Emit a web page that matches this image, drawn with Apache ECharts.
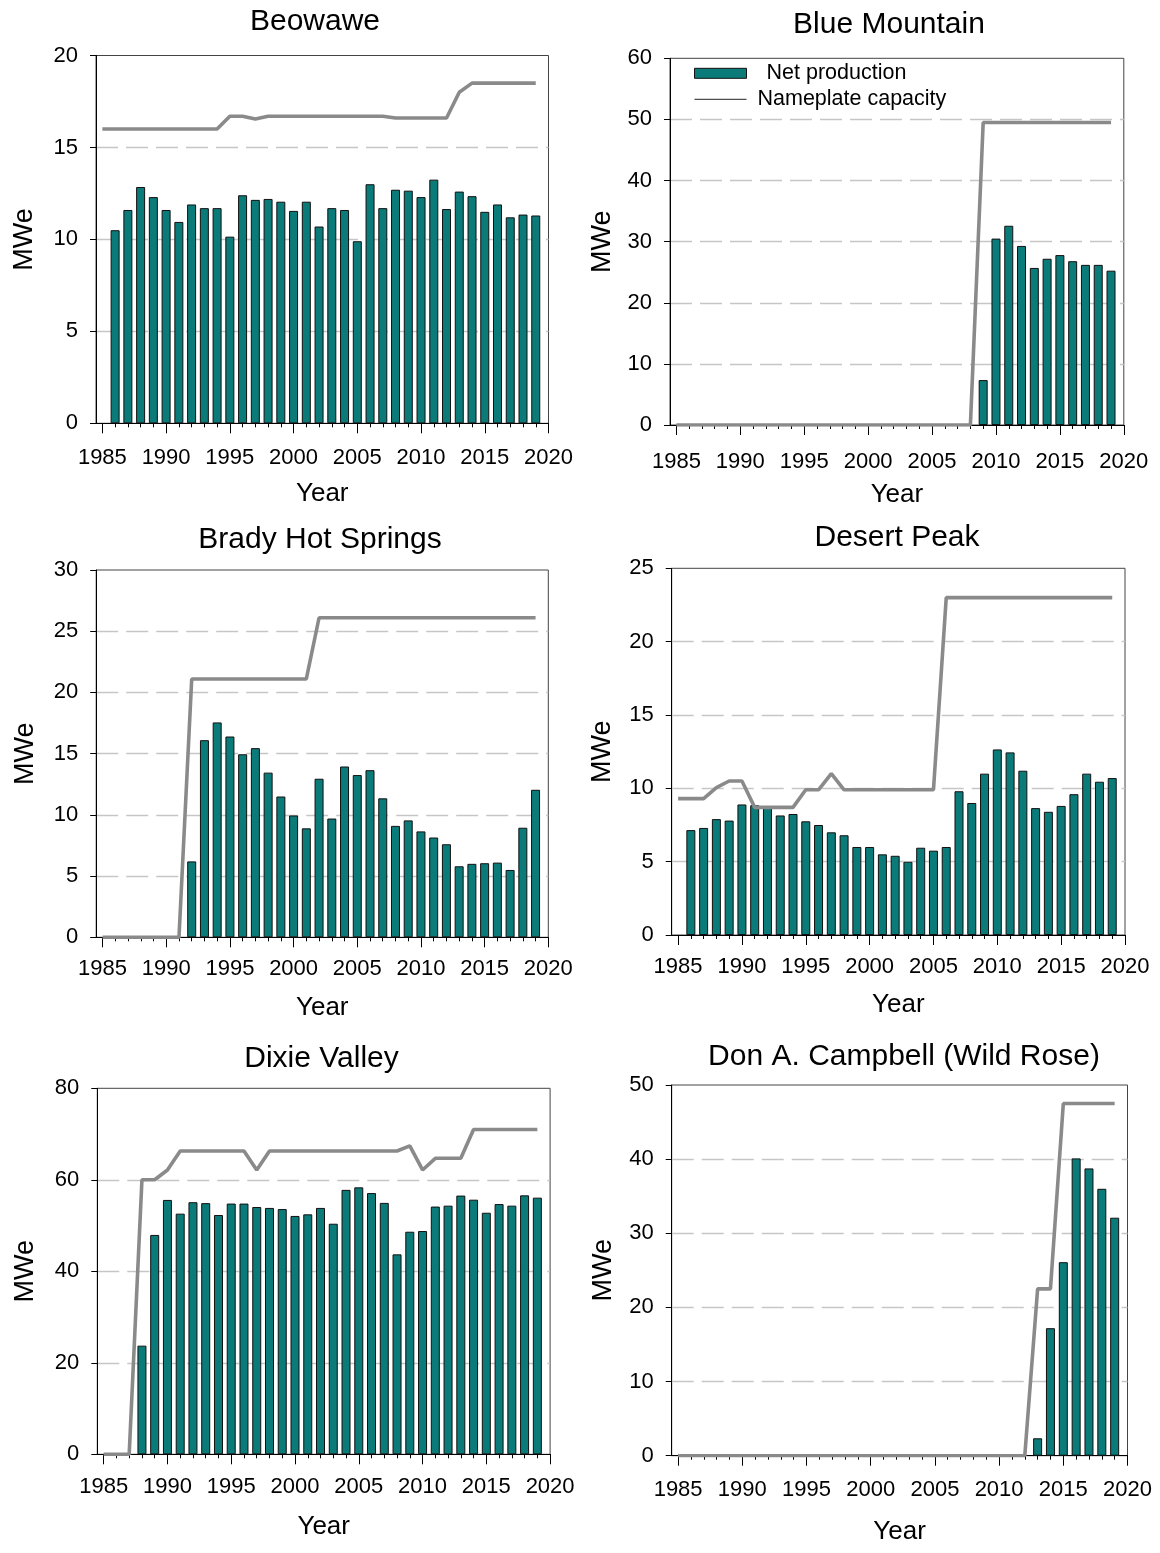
<!DOCTYPE html>
<html>
<head>
<meta charset="utf-8">
<script src="https://cdn.jsdelivr.net/npm/echarts@6/dist/echarts.min.js"></script>
<style>
html,body{margin:0;padding:0;background:#fff;}
#c{width:1160px;height:1553px;}
</style>
</head>
<body>
<div id="c"></div>
<script>
// ---------- data ----------
const years = [1985,1986,1987,1988,1989,1990,1991,1992,1993,1994,1995,1996,1997,1998,1999,2000,2001,2002,2003,2004,2005,2006,2007,2008,2009,2010,2011,2012,2013,2014,2015,2016,2017,2018,2019];
const majorTicks = [1985,1990,1995,2000,2005,2010,2015,2020];
const yearTicks = [1985,1986,1987,1988,1989,1990,1991,1992,1993,1994,1995,1996,1997,1998,1999,2000,2001,2002,2003,2004,2005,2006,2007,2008,2009,2010,2011,2012,2013,2014,2015,2016,2017,2018,2019,2020];

const beowaweNet = [null,10.5,11.6,12.85,12.3,11.6,10.95,11.9,11.7,11.7,10.15,12.4,12.15,12.2,12.05,11.55,12.05,10.7,11.7,11.6,9.9,13.0,11.7,12.7,12.65,12.3,13.25,11.65,12.6,12.35,11.5,11.9,11.2,11.35,11.3];
const beowaweCap = [16,16,16,16,16,16,16,16,16,16,16.7,16.7,16.55,16.7,16.7,16.7,16.7,16.7,16.7,16.7,16.7,16.7,16.7,16.6,16.6,16.6,16.6,16.6,18.0,18.5,18.5,18.5,18.5,18.5,18.5];

const blueNet = [null,null,null,null,null,null,null,null,null,null,null,null,null,null,null,null,null,null,null,null,null,null,null,null,7.35,30.5,32.6,29.3,25.7,27.2,27.8,26.8,26.2,26.2,25.25];
const blueCap = [0,0,0,0,0,0,0,0,0,0,0,0,0,0,0,0,0,0,0,0,0,0,0,0,49.5,49.5,49.5,49.5,49.5,49.5,49.5,49.5,49.5,49.5,49.5];

const bradyNet = [null,null,null,null,null,null,null,6.2,16.1,17.55,16.4,14.95,15.45,13.45,11.5,9.95,8.9,12.95,9.7,13.95,13.25,13.65,11.35,9.1,9.55,8.65,8.15,7.6,5.8,6.0,6.05,6.1,5.5,8.95,12.05];
const bradyCap = [0,0,0,0,0,0,0,21.1,21.1,21.1,21.1,21.1,21.1,21.1,21.1,21.1,21.1,26.1,26.1,26.1,26.1,26.1,26.1,26.1,26.1,26.1,26.1,26.1,26.1,26.1,26.1,26.1,26.1,26.1,26.1];

const desertNet = [null,7.15,7.3,7.9,7.8,8.9,8.85,8.75,8.15,8.25,7.75,7.5,7.0,6.8,6.0,6.0,5.5,5.4,5.0,5.95,5.75,6.0,9.8,9.0,11.0,12.65,12.45,11.2,8.65,8.4,8.8,9.6,11.0,10.45,10.7];
const desertCap = [9.3,9.3,9.3,10.05,10.5,10.5,8.7,8.7,8.7,8.7,9.9,9.9,11.0,9.9,9.9,9.9,9.9,9.9,9.9,9.9,9.9,23.0,23.0,23.0,23.0,23.0,23.0,23.0,23.0,23.0,23.0,23.0,23.0,23.0,23.0];

const dixieNet = [null,null,null,23.75,47.95,55.6,52.6,55.1,54.9,52.3,54.8,54.8,54.05,53.85,53.6,52.1,52.45,53.85,50.4,57.8,58.35,57.1,54.95,43.7,48.65,48.8,54.15,54.35,56.55,55.65,52.8,54.7,54.35,56.6,56.1];
const dixieCap = [0,0,0,60,60,62.15,66.3,66.3,66.3,66.3,66.3,66.3,62.15,66.3,66.3,66.3,66.3,66.3,66.3,66.3,66.3,66.3,66.3,66.3,67.4,62.15,64.7,64.7,64.7,71,71,71,71,71,71];

const donNet = [null,null,null,null,null,null,null,null,null,null,null,null,null,null,null,null,null,null,null,null,null,null,null,null,null,null,null,null,2.35,17.2,26.1,40.1,38.75,36.0,32.1];
const donCap = [0,0,0,0,0,0,0,0,0,0,0,0,0,0,0,0,0,0,0,0,0,0,0,0,0,0,0,0,22.5,22.5,47.5,47.5,47.5,47.5,47.5];

const titles = ['Beowawe','Blue Mountain','Brady Hot Springs','Desert Peak','Dixie Valley','Don A. Campbell (Wild Rose)'];
const netSeries = [beowaweNet, blueNet, bradyNet, desertNet, dixieNet, donNet];
const capSeries = [beowaweCap, blueCap, bradyCap, desertCap, dixieCap, donCap];
const yMaxes = [20, 60, 30, 25, 80, 50];
const ySteps = [5, 10, 5, 5, 20, 10];

// ---------- layout (pixels) ----------
const layout = [
  {left:96,   top:55.5,  width:452.5, height:367.8, tx:315,   ty:7,    lm:24, yng:58, xng:58},
  {left:670,  top:58.3,  width:453.8, height:366.7, tx:889,   ty:10,   lm:26, yng:54, xng:57},
  {left:96.2, top:570,   width:452.1, height:367.3, tx:320,   ty:525,  lm:21, yng:57, xng:58},
  {left:671.7,top:568.3, width:453.3, height:366.7, tx:897,   ty:523,  lm:21, yng:56, xng:57},
  {left:97.3, top:1088.3,width:452.8, height:366,   tx:321.5, ty:1044, lm:22, yng:58, xng:60},
  {left:671.7,top:1085,  width:455.8, height:370.7, tx:904,   ty:1042, lm:23, yng:55, xng:63}
];

const FONT = '"Liberation Sans", Arial, Helvetica, sans-serif';
const TEAL = '#0b7b79';
const GRAY = '#8a8a8a';

const option = {
  animation: false,
  backgroundColor: '#ffffff',
  title: [], grid: [], xAxis: [], yAxis: [], series: [],
  legend: [
    {
      data: [{name: 'Net production', icon: 'rect'}],
      left: 694, top: 62.3, padding: 0, orient: 'vertical',
      itemWidth: 52, itemHeight: 10, itemGap: 0, selectedMode: false,
      itemStyle: {borderColor: '#111', borderWidth: 1},
      textStyle: {fontFamily: FONT, fontSize: 21.5, color: '#000', lineHeight: 22, padding: [0,0,0,15]}
    },
    {
      data: [{name: 'Nameplate capacity'}],
      left: 694, top: 88.3, padding: 0, orient: 'vertical',
      itemWidth: 52, itemHeight: 10, itemGap: 0, selectedMode: false,
      itemStyle: {opacity: 0, borderWidth: 0},
      lineStyle: {color: '#222', width: 1, opacity: 1},
      textStyle: {fontFamily: FONT, fontSize: 21.5, color: '#000', lineHeight: 22, padding: [0,0,0,6]}
    }
  ]
};

function yearLabel(v) { return String(Math.round(v)); }

titles.forEach(function (t, i) {
  const L = layout[i];
  option.title.push({
    text: t, left: L.tx, top: L.ty, textAlign: 'center', padding: 0,
    textStyle: {fontFamily: FONT, fontSize: 30, fontWeight: 'normal', color: '#000'}
  });
  option.grid.push({
    left: L.left, top: L.top, width: L.width, height: L.height,
    show: true, borderColor: '#444', borderWidth: 1, backgroundColor: 'transparent',
    containLabel: false, outerBoundsMode: 'none'
  });
  option.xAxis.push({
    type: 'value', gridIndex: i, min: 1984.5, max: 2020, position: 'bottom',
    name: 'Year', nameLocation: 'middle', nameGap: L.xng,
    nameTextStyle: {fontFamily: FONT, fontSize: 26, color: '#000'},
    axisLine: {show: true, onZero: false, lineStyle: {color: '#000', width: 1}},
    axisTick: {show: true, customValues: majorTicks, length: 10, lineStyle: {color: '#000', width: 1}},
    axisLabel: {customValues: majorTicks, formatter: yearLabel, margin: L.lm, fontFamily: FONT, fontSize: 22, color: '#000'},
    splitLine: {show: false}
  });
  option.xAxis.push({
    type: 'value', gridIndex: i, min: 1984.5, max: 2020, position: 'bottom',
    axisLine: {show: false, onZero: false},
    axisTick: {show: true, customValues: yearTicks, length: 4, lineStyle: {color: '#000', width: 1}},
    axisLabel: {show: false},
    splitLine: {show: false}
  });
  option.yAxis.push({
    type: 'value', gridIndex: i, min: 0, max: yMaxes[i], interval: ySteps[i],
    name: 'MWe', nameLocation: 'middle', nameRotate: 90, nameGap: L.yng,
    nameTextStyle: {fontFamily: FONT, fontSize: 27, color: '#000'},
    axisLine: {show: true, onZero: false, lineStyle: {color: '#000', width: 1}},
    axisTick: {show: true, length: 6, lineStyle: {color: '#000', width: 1}},
    axisLabel: {margin: 18, fontFamily: FONT, fontSize: 22, color: '#000'},
    splitLine: {show: true, showMinLine: false, showMaxLine: false,
      lineStyle: {color: '#c6c6c6', type: [22, 8], width: 1.4}}
  });
  option.series.push({
    type: 'bar', name: 'Net production', xAxisIndex: 2 * i, yAxisIndex: i,
    data: years.map(function (y, k) { return [y, netSeries[i][k]]; }),
    barWidth: 9,
    itemStyle: {color: TEAL, borderColor: '#111', borderWidth: 1},
    z: 2, silent: true
  });
  option.series.push({
    type: 'line', name: 'Nameplate capacity', xAxisIndex: 2 * i, yAxisIndex: i,
    data: years.map(function (y, k) { return [y, capSeries[i][k]]; }),
    symbol: 'none', showSymbol: false,
    lineStyle: {color: GRAY, width: 3.6},
    itemStyle: {color: GRAY},
    z: 3, silent: true
  });
});

const chart = echarts.init(document.getElementById('c'), null, {renderer: 'canvas'});
chart.setOption(option);
</script>
</body>
</html>
